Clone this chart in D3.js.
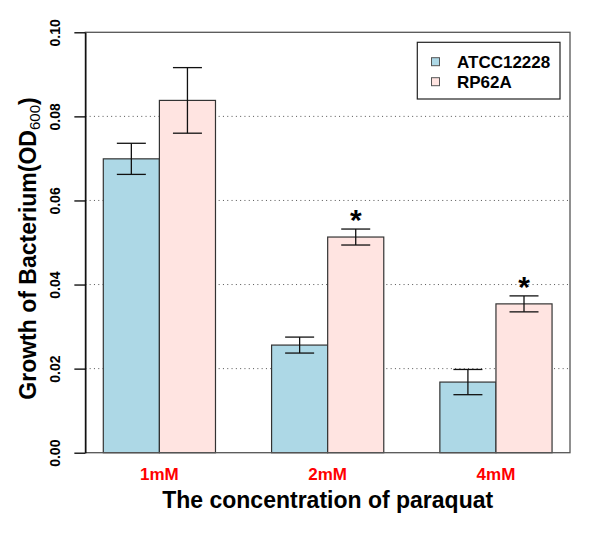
<!DOCTYPE html>
<html>
<head>
<meta charset="utf-8">
<script src="https://cdn.jsdelivr.net/npm/d3@7"></script>
<style>
  html, body { margin: 0; padding: 0; background: #fff; }
  svg { display: block; }
  text { font-family: "Liberation Sans", Arial, Helvetica, sans-serif; font-weight: bold; }
</style>
</head>
<body>
<svg id="chart" width="600" height="533"></svg>
<script>
// ---- data ----
const categories = ["1mM", "2mM", "4mM"];
const seriesNames = ["ATCC12228", "RP62A"];
const seriesColors = ["#ADD8E6", "#FFE4E1"];
const atccMeans = [0.0699, 0.0256, 0.0168];
const atccErrors = [0.0037, 0.0019, 0.0030];
const rp62aMeans = [0.0838, 0.0513, 0.0354];
const rp62aErrors = [0.0078, 0.0019, 0.0019];
const significant = [false, true, true]; // star over RP62A bar
const yTicks = [0, 0.02, 0.04, 0.06, 0.08, 0.10];
const gridTicks = [0.02, 0.04, 0.06, 0.08];

// ---- layout ----
const svg = d3.select("#chart");
const plotLeft = 85.35, plotRight = 570, plotTop = 32.3, plotBottom = 452.7;

const barUnits = [];
categories.forEach((c, gi) => {
  seriesNames.forEach((s, si) => {
    const left = 1 + gi * 3 + si;
    barUnits.push({ cat: c, gi, si, left,
      mean: si === 0 ? atccMeans[gi] : rp62aMeans[gi],
      err: si === 0 ? atccErrors[gi] : rp62aErrors[gi] });
  });
});
const xMin = 1, xMax = 1 + categories.length * 3 - 1;
const pad = (xMax - xMin) * 0.04;
const x = d3.scaleLinear().domain([xMin - pad, xMax + pad]).range([plotLeft, plotRight]);
const y = d3.scaleLinear().domain([0, 0.10]).range([plotBottom, plotTop]);

// grid lines (dotted)
svg.append("g").selectAll("line").data(gridTicks).join("line")
  .attr("x1", plotLeft).attr("x2", plotRight)
  .attr("y1", d => y(d)).attr("y2", d => y(d))
  .attr("stroke", "#555").attr("stroke-width", 1)
  .attr("stroke-dasharray", "1,3.3");

// bars
svg.append("g").selectAll("rect").data(barUnits).join("rect")
  .attr("x", d => x(d.left))
  .attr("width", d => x(d.left + 1) - x(d.left))
  .attr("y", d => y(d.mean))
  .attr("height", d => y(0) - y(d.mean))
  .attr("fill", d => seriesColors[d.si])
  .attr("stroke", "#333").attr("stroke-width", 1.2);

// error bars
const capHalf = 14.5;
const eb = svg.append("g").attr("stroke", "#111").attr("stroke-width", 1.3);
barUnits.forEach(d => {
  const cx = x(d.left + 0.5);
  eb.append("line").attr("x1", cx).attr("x2", cx).attr("y1", y(d.mean - d.err)).attr("y2", y(d.mean + d.err));
  eb.append("line").attr("x1", cx - capHalf).attr("x2", cx + capHalf).attr("y1", y(d.mean + d.err)).attr("y2", y(d.mean + d.err));
  eb.append("line").attr("x1", cx - capHalf).attr("x2", cx + capHalf).attr("y1", y(d.mean - d.err)).attr("y2", y(d.mean - d.err));
});

// significance stars
barUnits.filter(d => d.si === 1 && significant[d.gi]).forEach(d => {
  svg.append("text")
    .attr("x", x(d.left + 0.5)).attr("y", y(d.mean + d.err) + 1)
    .attr("text-anchor", "middle").style("font-size", "30px").attr("fill", "#000")
    .text("*");
});

// plot box
svg.append("rect")
  .attr("x", plotLeft).attr("y", plotTop)
  .attr("width", plotRight - plotLeft).attr("height", plotBottom - plotTop)
  .attr("fill", "none").attr("stroke", "#555").attr("stroke-width", 1.3);

// y axis
const yAxis = d3.axisLeft(y).tickValues(yTicks).tickSize(11).tickSizeOuter(0).tickFormat(d3.format(".2f"));
const yg = svg.append("g").attr("transform", `translate(${plotLeft},0)`).call(yAxis);
yg.attr("font-size", null).attr("font-family", null);
yg.select(".domain").attr("stroke", "#000").attr("stroke-width", 1.3);
yg.selectAll(".tick line").attr("stroke", "#000").attr("stroke-width", 1.3);
yg.selectAll(".tick text")
  .attr("x", 0).attr("dy", null).attr("y", 0)
  .attr("text-anchor", "middle")
  .attr("transform", `translate(${60 - plotLeft},0) rotate(-90)`)
  .attr("fill", "#000")
  .style("font-size", "14px")
  .style("font-family", "'Liberation Sans', Arial, sans-serif").style("font-weight", "bold");

// category labels
svg.append("g").selectAll("text").data(categories).join("text")
  .attr("x", (d, i) => x(1 + i * 3 + 1))
  .attr("y", 480)
  .attr("text-anchor", "middle").style("font-size", "17px").attr("fill", "#FF0000")
  .text(d => d);

// x title
svg.append("text")
  .attr("x", (plotLeft + plotRight) / 2).attr("y", 508)
  .attr("text-anchor", "middle").style("font-size", "23px").attr("fill", "#000")
  .text("The concentration of paraquat");

// y title with subscript
const yt = svg.append("text")
  .attr("transform", `translate(36,${(plotTop + plotBottom) / 2 + 6}) rotate(-90)`)
  .attr("text-anchor", "middle").style("font-size", "23px").attr("fill", "#000");
yt.append("tspan").text("Growth of Bacterium(OD");
yt.append("tspan").style("font-size", "15px").attr("dy", 4).style("font-weight", "normal").text("600");
yt.append("tspan").attr("dy", -4).text(")");

// legend
const lg = svg.append("g");
lg.append("rect").attr("x", 417.3).attr("y", 42.3).attr("width", 142.7).attr("height", 56.7)
  .attr("fill", "#fff").attr("stroke", "#222").attr("stroke-width", 1.2);
seriesNames.forEach((s, i) => {
  const cy = 61.7 + i * 20;
  lg.append("rect").attr("x", 431.5).attr("y", cy - 4).attr("width", 8).attr("height", 8)
    .attr("fill", seriesColors[i]).attr("stroke", "#555").attr("stroke-width", 1);
  lg.append("text").attr("x", 457).attr("y", cy + 6).style("font-size", "17px").attr("fill", "#000").text(s);
});
</script>
</body>
</html>
